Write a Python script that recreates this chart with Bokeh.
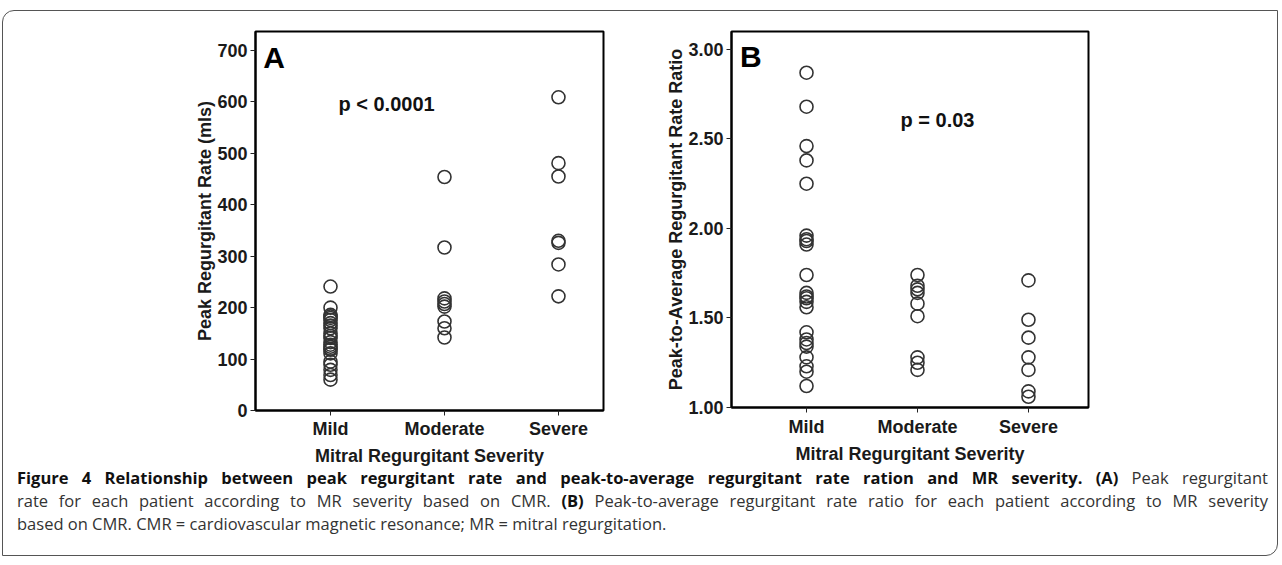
from bokeh.plotting import figure
from bokeh.layouts import row, column, Spacer
from bokeh.models import Div, Label, FixedTicker, NumeralTickFormatter, Range1d
from bokeh.embed import file_html
from bokeh.resources import INLINE

# ---------------- data ----------------
categories = ["Mild", "Moderate", "Severe"]

peak_mild = [241, 200, 186, 183, 180, 176, 170, 165, 160, 150, 145, 141, 133,
             128, 124, 120, 118, 111, 95, 89, 79, 69, 60]
peak_moderate = [454, 317, 218, 212, 207, 202, 173, 160, 142]
peak_severe = [609, 481, 455, 330, 326, 284, 222]

ratio_mild = [2.87, 2.68, 2.46, 2.38, 2.25, 1.96, 1.94, 1.93, 1.91, 1.74, 1.64,
              1.62, 1.61, 1.59, 1.56, 1.42, 1.38, 1.36, 1.34, 1.28, 1.23, 1.20, 1.12]
ratio_moderate = [1.74, 1.68, 1.66, 1.64, 1.58, 1.51, 1.28, 1.25, 1.21]
ratio_severe = [1.71, 1.49, 1.39, 1.28, 1.21, 1.09, 1.06]

a_ticks = [0, 100, 200, 300, 400, 500, 600, 700]
b_ticks = [1.0, 1.5, 2.0, 2.5, 3.0]

x_title = "Mitral Regurgitant Severity"
a_title = "Peak Regurgitant Rate (mls)"
b_title = "Peak-to-Average Regurgitant Rate Ratio"
a_letter, b_letter = "A", "B"
a_ptext, b_ptext = "p < 0.0001", "p = 0.03"

FONT = "Liberation Sans"


def make_panel(series, xr, yr, ticks, ytitle, fw, fh, mbt, mbb, xstand):
    p = figure(output_backend="svg", toolbar_location=None,
               frame_width=fw, frame_height=fh,
               x_range=Range1d(*xr), y_range=Range1d(*yr),
               min_border_left=80, min_border_right=10,
               min_border_top=mbt, min_border_bottom=mbb,
               background_fill_color="white", border_fill_color="white")
    for i, vals in enumerate(series):
        p.scatter(x=[i] * len(vals), y=vals, marker="circle", size=13,
                  fill_color=None, line_color="#333333", line_width=1.6)
    p.grid.visible = False
    p.outline_line_color = "black"
    p.outline_line_width = 2
    p.outline_line_alpha = 1
    p.xaxis.ticker = FixedTicker(ticks=list(range(len(categories))))
    p.xaxis.major_label_overrides = {i: c for i, c in enumerate(categories)}
    p.yaxis.ticker = FixedTicker(ticks=ticks)
    for ax in (p.xaxis[0], p.yaxis[0]):
        ax.axis_line_width = 2
        ax.axis_line_color = "black"
        ax.major_tick_in = 0
        ax.major_tick_out = 5
        ax.major_tick_line_width = 1
        ax.major_tick_line_color = "#222222"
        ax.minor_tick_line_color = None
        ax.major_label_text_font = FONT
        ax.major_label_text_font_style = "bold"
        ax.major_label_text_font_size = "18px"
        ax.major_label_text_color = "#1a1a1a"
        ax.axis_label_text_font = FONT
        ax.axis_label_text_font_style = "bold"
        ax.axis_label_text_font_size = "18px"
        ax.axis_label_text_color = "#1a1a1a"
    p.xaxis.major_label_standoff = xstand
    p.yaxis.major_label_standoff = 3
    p.xaxis.axis_label = x_title
    p.yaxis.axis_label = ytitle
    p.xaxis.axis_label_standoff = 4
    p.yaxis.axis_label_standoff = -1
    return p


pA = make_panel([peak_mild, peak_moderate, peak_severe],
                (-0.658, 2.395), (0, 737), a_ticks, a_title,
                348, 379, 18, 57, 3)
pA.add_layout(Label(x=-0.59, y=718, text=a_letter, text_font=FONT,
                    text_font_style="bold", text_font_size="30px",
                    text_baseline="top", text_color="black"))
pA.add_layout(Label(x=0.07, y=596, text=a_ptext, text_font=FONT,
                    text_font_style="bold", text_font_size="20px",
                    text_baseline="middle", text_color="#111111"))

pB = make_panel([ratio_mild, ratio_moderate, ratio_severe],
                (-0.676, 2.541), (1.0, 3.10), b_ticks, b_title,
                357, 376, 20, 58, 4)
pB.yaxis.formatter = NumeralTickFormatter(format="0.00")
pB.add_layout(Label(x=-0.60, y=3.05, text=b_letter, text_font=FONT,
                    text_font_style="bold", text_font_size="30px",
                    text_baseline="top", text_color="black"))
pB.add_layout(Label(x=0.847, y=2.603, text=b_ptext, text_font=FONT,
                    text_font_style="bold", text_font_size="20px",
                    text_baseline="middle", text_color="#111111"))

line1 = ('<b style="color:#111">Figure 4 Relationship between peak regurgitant rate and '
         'peak-to-average regurgitant rate ration and MR severity. (A)</b> Peak regurgitant')
line2 = ('rate for each patient according to MR severity based on CMR. <b style="color:#111">(B)</b> '
         'Peak-to-average regurgitant rate ratio for each patient according to MR severity')
line3 = 'based on CMR. CMR = cardiovascular magnetic resonance; MR = mitral regurgitation.'

just = "text-align:justify;text-align-last:justify;white-space:nowrap;"
cap_html = (
    '<div style="font-family:\'Open Sans\';font-size:16.5px;line-height:23px;color:#333;'
    'position:relative;top:-5px;'
    'padding:0 14px 0 9px;width:1274px;box-sizing:border-box;">'
    f'<div style="{just}">{line1}</div>'
    f'<div style="{just}">{line2}</div>'
    f'<div style="white-space:nowrap;">{line3}</div>'
    '</div>'
)
caption = Div(text=cap_html, width=1274, height=75)

top = row(Spacer(width=172, height=10), pA, Spacer(width=38, height=10), pB)
box = column(top, caption, width=1276, height=546,
             styles={"border": "1px solid #555",
                     "border-radius": "12px 0 12px 0",
                     "background": "white"})
layout = column(Spacer(width=10, height=10), row(Spacer(width=2, height=10), box))

open("out.html", "w").write(file_html(layout, INLINE))
